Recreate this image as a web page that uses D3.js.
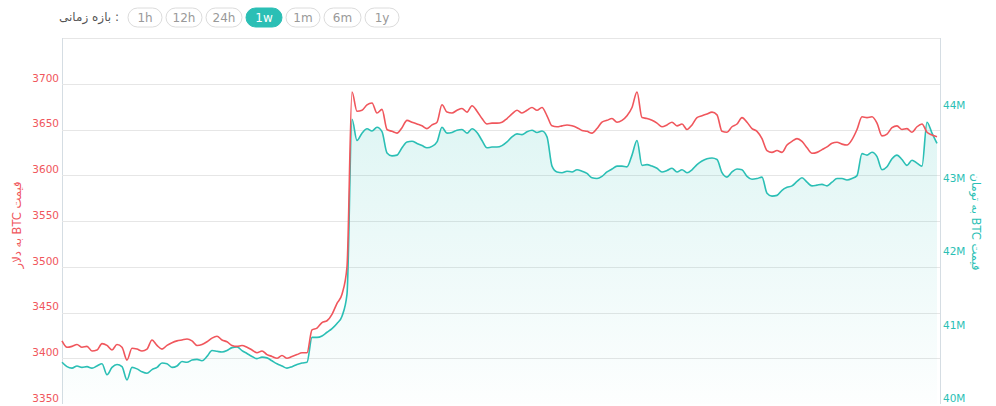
<!DOCTYPE html>
<html><head><meta charset="utf-8">
<script src="https://cdn.jsdelivr.net/npm/d3@7"></script>
<style>body{margin:0;background:#fff;font-family:"DejaVu Sans",sans-serif}</style>
</head><body><svg id="c" width="996" height="406"></svg>
<script>
const usd=[3419,3412,3413,3415,3412,3413,3408,3409,3416,3414,3409,3415,3412,3398,3411,3410,3408,3410,3420,3414,3410,3414,3417,3419,3420,3421,3419,3414,3415,3418,3422,3424,3420,3418,3414,3413,3414,3412,3409,3406,3408,3404,3402,3400,3403,3400,3402,3404,3406,3406,3431,3433,3439,3441,3448,3460,3470,3500,3691,3670,3671,3677,3679,3668,3672,3650,3648,3646,3652,3660,3658,3656,3654,3651,3655,3658,3677,3669,3668,3671,3673,3669,3676,3670,3662,3656,3657,3657,3658,3662,3667,3671,3668,3671,3674,3671,3674,3665,3654,3653,3654,3655,3654,3652,3649,3648,3646,3651,3658,3660,3662,3658,3660,3665,3674,3691,3663,3662,3660,3657,3653,3655,3658,3654,3656,3650,3655,3663,3665,3667,3669,3666,3648,3647,3653,3656,3663,3658,3651,3648,3640,3627,3625,3627,3625,3633,3637,3640,3637,3630,3624,3625,3628,3631,3635,3636,3634,3633,3639,3650,3664,3663,3664,3657,3643,3645,3652,3654,3650,3651,3647,3653,3656,3647,3644,3642];
const tomanM=[40.57,40.51,40.49,40.52,40.50,40.51,40.49,40.52,40.55,40.40,40.50,40.54,40.51,40.33,40.50,40.48,40.44,40.42,40.47,40.50,40.56,40.55,40.50,40.52,40.58,40.57,40.60,40.61,40.59,40.65,40.73,40.72,40.71,40.73,40.77,40.78,40.73,40.69,40.65,40.62,40.64,40.63,40.59,40.55,40.52,40.49,40.51,40.54,40.56,40.57,40.91,40.91,40.93,40.98,41.03,41.10,41.20,41.50,43.89,43.60,43.70,43.76,43.73,43.78,43.72,43.43,43.39,43.40,43.50,43.58,43.59,43.56,43.53,43.50,43.52,43.58,43.78,43.70,43.71,43.74,43.75,43.70,43.76,43.71,43.60,43.50,43.51,43.51,43.53,43.58,43.65,43.69,43.68,43.72,43.74,43.71,43.73,43.65,43.25,43.17,43.16,43.18,43.17,43.20,43.18,43.15,43.09,43.08,43.11,43.17,43.21,43.25,43.25,43.24,43.40,43.60,43.26,43.27,43.25,43.22,43.17,43.19,43.22,43.17,43.20,43.16,43.20,43.27,43.32,43.35,43.36,43.34,43.16,43.10,43.17,43.21,43.20,43.11,43.07,43.08,43.10,42.88,42.84,42.85,42.92,42.96,42.98,43.04,43.09,43.03,42.98,42.99,43.00,42.98,43.03,43.08,43.08,43.06,43.08,43.12,43.42,43.40,43.44,43.38,43.20,43.24,43.35,43.40,43.34,43.26,43.33,43.29,43.25,43.85,43.70,43.56];
const usdTicks=[3350,3400,3450,3500,3550,3600,3650,3700];
const tomanTicks=[40,41,42,43,44];
const ranges=["1h","12h","24h","1w","1m","6m","1y"];
const activeRange="1w";
const RED="#f0565c",TEAL="#2bbfb5";
const FONT="'DejaVu Sans',sans-serif";
const svg=d3.select("#c");
const L=62,R=940,T=38,B=404;
const x=d3.scaleLinear().domain([0,175.6]).range([L,R]);
const yL=d3.scaleLinear().domain([3350,3750]).range([B,T]);
const yR=d3.scaleLinear().domain([40,45]).range([B,T]);
const defs=svg.append("defs");
const g=defs.append("linearGradient").attr("id","gr").attr("x1",0).attr("x2",0).attr("y1",0).attr("y2",1);
g.append("stop").attr("offset","0%").attr("stop-color",TEAL).attr("stop-opacity",0.15);
g.append("stop").attr("offset","100%").attr("stop-color",TEAL).attr("stop-opacity",0.01);
svg.append("line").attr("x1",L).attr("x2",R).attr("y1",T+.5).attr("y2",T+.5).attr("stroke","#e6e6e6");
svg.append("line").attr("x1",L+.5).attr("x2",L+.5).attr("y1",T).attr("y2",B).attr("stroke","#d5dde3");
svg.append("line").attr("x1",R+.5).attr("x2",R+.5).attr("y1",T).attr("y2",B).attr("stroke","#d5dde3");
svg.append("g").selectAll("line").data(usdTicks.slice(1)).join("line")
 .attr("x1",L).attr("x2",R).attr("y1",d=>Math.round(yL(d))+.5).attr("y2",d=>Math.round(yL(d))+.5).attr("stroke","#e6e6e6");
const axL=svg.append("g").attr("transform",`translate(${L},0)`).call(d3.axisLeft(yL).tickValues(usdTicks).tickSize(0).tickPadding(3).tickFormat(d3.format("d")));
axL.select(".domain").remove();
axL.selectAll("text").attr("fill",RED).attr("font-size",10.5).attr("dy","-0.25em").attr("font-family",FONT);
const axR=svg.append("g").attr("transform",`translate(${R},0)`).call(d3.axisRight(yR).tickValues(tomanTicks).tickSize(0).tickPadding(3).tickFormat(d=>d+"M"));
axR.select(".domain").remove();
axR.selectAll("text").attr("fill",TEAL).attr("font-size",10.5).attr("dy","-0.25em").attr("font-family",FONT);
svg.append("text").attr("transform","translate(21,225) rotate(-90)").attr("text-anchor","middle").attr("direction","rtl").style("unicode-bidi","embed").attr("fill",RED).attr("font-size",11.5).attr("font-family",FONT).text("قیمت BTC به دلار");
svg.append("text").attr("transform","translate(972,222) rotate(90)").attr("text-anchor","middle").attr("direction","rtl").style("unicode-bidi","embed").attr("fill",TEAL).attr("font-size",11.5).attr("font-family",FONT).text("قیمت BTC به تومان");
const c=d3.curveMonotoneX;
svg.append("path").datum(tomanM).attr("fill","url(#gr)")
 .attr("d",d3.area().x((d,i)=>x(i)).y0(B).y1(d=>yR(d)).curve(c));
svg.append("path").datum(tomanM).attr("fill","none").attr("stroke",TEAL).attr("stroke-width",1.6)
 .attr("d",d3.line().x((d,i)=>x(i)).y(d=>yR(d)).curve(c));
svg.append("path").datum(usd).attr("fill","none").attr("stroke",RED).attr("stroke-width",1.6)
 .attr("d",d3.line().x((d,i)=>x(i)).y(d=>yL(d)).curve(c));
svg.append("text").attr("x",119).attr("y",21).attr("text-anchor","start").attr("direction","rtl").style("unicode-bidi","embed").attr("fill","#555").attr("font-size",12).attr("font-family",FONT).text(": بازه زمانی");
const bw=[34,36,36,36,34,37,34];
let bx=128;
ranges.forEach((r,i)=>{
  const gg=svg.append("g").attr("transform",`translate(${bx},8)`);
  const on=r===activeRange;
  gg.append("rect").attr("width",bw[i]).attr("height",19).attr("rx",9.5)
    .attr("fill",on?TEAL:"#fff").attr("stroke",on?TEAL:"#dcdcdc");
  gg.append("text").attr("x",bw[i]/2).attr("y",14).attr("text-anchor","middle").attr("font-family",FONT)
    .attr("font-size",12).attr("fill",on?"#fff":"#999").text(r);
  bx+=bw[i]+4;
});
</script></body></html>
